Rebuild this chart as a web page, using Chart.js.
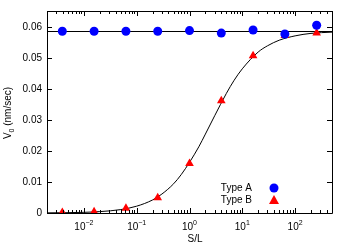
<!DOCTYPE html>
<html>
<head>
<meta charset="utf-8">
<script src="https://cdn.jsdelivr.net/npm/chart.js@4/dist/chart.umd.min.js"></script>
<style>
  html, body { margin: 0; padding: 0; background: #fff; }
  #c { display: block; }
</style>
</head>
<body>
<canvas id="c" width="350" height="245"></canvas>
<script>
// valores
const sl = [0.0039, 0.0156, 0.0625, 0.25, 1, 4, 16, 64, 256];
const tipoA = [0.0585, 0.0585, 0.0585, 0.0585, 0.0587, 0.0579, 0.0589, 0.0576, 0.0604];
const tipoB = [0.0002, 0.0004, 0.0015, 0.0049, 0.0159, 0.0361, 0.0506, 0.0571, 0.0579];

// linea horizontal (promedio tipo A)
const lineaA = 0.0584;

// curva de ajuste
const curvaX = [0.002, 0.005, 0.01, 0.02, 0.05, 0.1, 0.2, 0.3, 0.5, 0.7, 1, 1.5, 2, 3, 5, 7, 10, 20, 30, 50, 100, 200, 500];
const curvaY = [0.00005, 0.00011, 0.00022, 0.00045, 0.0011, 0.0022, 0.0042, 0.0061, 0.0094, 0.0124, 0.0163, 0.0213, 0.0254, 0.0313, 0.0385, 0.0427, 0.0464, 0.0518, 0.0538, 0.0556, 0.0570, 0.0578, 0.0582];

const xTicks = [-2, -1, 0, 1, 2];
const yTicks = [0, 0.01, 0.02, 0.03, 0.04, 0.05, 0.06];
const yTickLabels = ['0', '0.01', '0.02', '0.03', '0.04', '0.05', '0.06'];

const FONT = 'Liberation Sans, Arial, sans-serif';

const ejes = {
  id: 'ejes',
  afterDraw(chart) {
    const ctx = chart.ctx;
    const a = chart.chartArea;
    const xs = chart.scales.x, ys = chart.scales.y;
    ctx.save();
    ctx.strokeStyle = '#000';
    ctx.lineWidth = 1;
    ctx.beginPath();
    ctx.rect(Math.round(a.left) + 0.5, Math.round(a.top) + 0.5, Math.round(a.right - a.left), Math.round(a.bottom - a.top));
    ctx.stroke();

    // ticks Y
    ctx.fillStyle = '#000';
    ctx.font = '10px ' + FONT;
    ctx.textAlign = 'right';
    ctx.textBaseline = 'middle';
    yTicks.forEach((v, i) => {
      const y = Math.round(ys.getPixelForValue(v)) + 0.5;
      ctx.beginPath();
      ctx.moveTo(a.left, y); ctx.lineTo(a.left + 5, y);
      ctx.moveTo(a.right, y); ctx.lineTo(a.right - 5, y);
      ctx.stroke();
      ctx.fillText(yTickLabels[i], a.left - 5, y);
    });

    // ticks X (log)
    for (let e = -3; e <= 2; e++) {
      for (let m = 1; m <= 9; m++) {
        const v = m * Math.pow(10, e);
        if (v < xs.min || v > xs.max) continue;
        const x = Math.round(xs.getPixelForValue(v)) + 0.5;
        const len = m === 1 ? 5 : 3;
        ctx.beginPath();
        ctx.moveTo(x, a.bottom); ctx.lineTo(x, a.bottom - len);
        ctx.moveTo(x, a.top); ctx.lineTo(x, a.top + len);
        ctx.stroke();
      }
    }
    xTicks.forEach(e => {
      const x = xs.getPixelForValue(Math.pow(10, e));
      const exp = String(e).replace('-', '\u2212');
      ctx.font = '10px ' + FONT;
      const wb = ctx.measureText('10').width;
      ctx.font = '7px ' + FONT;
      const we = ctx.measureText(exp).width;
      const x0 = x - (wb + we) / 2;
      ctx.textAlign = 'left';
      ctx.textBaseline = 'alphabetic';
      ctx.font = '10px ' + FONT;
      ctx.fillText('10', x0, 230);
      ctx.font = '7px ' + FONT;
      ctx.fillText(exp, x0 + wb, 225);
    });

    // titulos
    ctx.font = '10px ' + FONT;
    ctx.textAlign = 'center';
    ctx.textBaseline = 'alphabetic';
    ctx.fillText('S/L', 195, 242);

    ctx.save();
    ctx.translate(11, 113);
    ctx.rotate(-Math.PI / 2);
    ctx.textAlign = 'left';
    const t1 = 'V', t2 = '0', t3 = ' (nm/sec)';
    ctx.font = '10px ' + FONT;
    const w1 = ctx.measureText(t1).width, w3 = ctx.measureText(t3).width;
    ctx.font = '7px ' + FONT;
    const w2 = ctx.measureText(t2).width;
    let px = -(w1 + w2 + w3) / 2;
    ctx.font = '10px ' + FONT;
    ctx.fillText(t1, px, 0); px += w1;
    ctx.font = '7px ' + FONT;
    ctx.fillText(t2, px, 3); px += w2;
    ctx.font = '10px ' + FONT;
    ctx.fillText(t3, px, 0);
    ctx.restore();

    // leyenda
    ctx.font = '10px ' + FONT;
    ctx.textAlign = 'right';
    ctx.textBaseline = 'middle';
    ctx.fillText('Type A', 252, 188);
    ctx.fillText('Type B', 252, 200);
    ctx.fillStyle = '#0000ff';
    ctx.beginPath();
    ctx.arc(274, 188, 4.5, 0, Math.PI * 2);
    ctx.fill();
    ctx.fillStyle = '#ff0000';
    ctx.beginPath();
    ctx.moveTo(274, 195); ctx.lineTo(279, 204); ctx.lineTo(269, 204);
    ctx.closePath();
    ctx.fill();
    ctx.restore();
  }
};

new Chart(document.getElementById('c').getContext('2d'), {
  type: 'scatter',
  data: {
    datasets: [
      {
        label: 'Type A',
        data: sl.map((x, i) => ({ x, y: tipoA[i] })),
        backgroundColor: '#0000ff',
        borderColor: '#0000ff',
        pointStyle: 'circle',
        pointRadius: 4.5,
        pointBorderWidth: 0,
        order: 1
      },
      {
        label: 'Type B',
        data: sl.map((x, i) => ({ x, y: tipoB[i] })),
        backgroundColor: '#ff0000',
        borderColor: '#ff0000',
        pointStyle: 'triangle',
        pointRadius: 5,
        pointBorderWidth: 0,
        order: 1
      },
      {
        label: 'ajuste',
        type: 'line',
        data: curvaX.map((x, i) => ({ x, y: curvaY[i] })),
        borderColor: '#000',
        borderWidth: 1,
        pointRadius: 0,
        cubicInterpolationMode: 'monotone',
        fill: false,
        order: 2
      },
      {
        label: 'promedio',
        type: 'line',
        data: [{ x: 0.002, y: lineaA }, { x: 500, y: lineaA }],
        borderColor: '#000',
        borderWidth: 1,
        pointRadius: 0,
        fill: false,
        order: 2
      }
    ]
  },
  options: {
    responsive: false,
    devicePixelRatio: 1,
    animation: false,
    layout: { padding: { left: 47, right: 18, top: 11, bottom: 32 } },
    plugins: { legend: { display: false }, tooltip: { enabled: false } },
    scales: {
      x: { type: 'logarithmic', min: 0.002, max: 500, display: false },
      y: { type: 'linear', min: 0, max: 0.065, display: false }
    }
  },
  plugins: [ejes]
});
</script>
</body>
</html>
